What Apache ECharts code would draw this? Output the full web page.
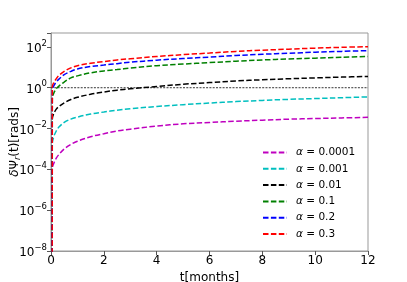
<!DOCTYPE html>
<html><head><meta charset="utf-8">
<script src="https://cdn.jsdelivr.net/npm/echarts@6/dist/echarts.min.js"></script>
<style>html,body{margin:0;padding:0;background:#fff}#c{width:407px;height:282px}</style>
</head><body><div id="c"></div>
<script>
// time in months
const tMonths = [0.045, 0.05, 0.1, 0.2, 0.3, 0.5, 0.75, 1, 1.5, 2, 2.5, 3, 4, 5, 6, 7, 8, 9, 10, 11, 12];
// δΨ_r(t) [rads] for each alpha
const alpha0001 = [1e-12, 1.122e-4, 1.905e-4, 3.548e-4, 5.370e-4, 1.0e-3, 1.660e-3, 2.399e-3, 3.981e-3, 5.623e-3, 7.586e-3, 9.333e-3, 1.318e-2, 1.698e-2, 1.995e-2, 2.291e-2, 2.570e-2, 2.884e-2, 3.090e-2, 3.311e-2, 3.548e-2];
const alpha001 = [1e-12, 1.778e-3, 3.802e-3, 7.586e-3, 1.175e-2, 1.995e-2, 2.884e-2, 3.631e-2, 5.129e-2, 6.457e-2, 7.943e-2, 9.333e-2, 0.1202, 0.1479, 0.1778, 0.2089, 0.2399, 0.2692, 0.2951, 0.3236, 0.3548];
const alpha01 = [1e-12, 3.020e-2, 5.248e-2, 8.913e-2, 0.1202, 0.1820, 0.2630, 0.3388, 0.4786, 0.6166, 0.7586, 0.8913, 1.148, 1.479, 1.778, 2.138, 2.455, 2.754, 3.020, 3.311, 3.548];
const alpha1 = [1e-12, 0.3162, 0.5248, 0.8913, 1.202, 1.905, 3.020, 3.802, 5.370, 6.607, 7.762, 9.120, 12.02, 14.45, 16.98, 19.95, 22.91, 25.70, 28.18, 30.90, 33.88];
const alpha2 = [1e-12, 0.7943, 1.202, 1.905, 2.630, 4.365, 6.310, 8.318, 10.96, 12.88, 15.14, 17.78, 22.39, 26.92, 31.62, 38.02, 43.65, 48.98, 54.95, 60.26, 66.07];
const alpha3 = [1e-12, 1.122, 1.738, 2.754, 3.981, 6.310, 9.333, 12.02, 15.85, 19.05, 22.91, 26.30, 33.88, 41.69, 50.12, 60.26, 69.18, 77.62, 87.10, 95.50, 102.3];
const seriesNames = ['α=0.0001', 'α=0.001', 'α=0.01', 'α=0.1', 'α=0.2', 'α=0.3'];
const seriesValues = [alpha0001, alpha001, alpha01, alpha1, alpha2, alpha3];
const seriesColors = ['#bf00bf', '#00bfbf', '#000000', '#008000', '#0000ff', '#ff0000'];
const refLineX = [0, 12];
const refLineY = [1, 1];
const xTicks = [0, 2, 4, 6, 8, 10, 12];
const yTickExponents = [-8, -6, -4, -2, 0, 2];

const FONT = 'DejaVu Sans';
const chart = echarts.init(document.getElementById('c'), null, {renderer: 'canvas'});

const series = seriesNames.map((name, i) => ({
  name: name,
  type: 'line',
  data: tMonths.map((t, j) => [t, seriesValues[i][j]]),
  symbol: 'none',
  showSymbol: false,
  smooth: 0.35,
  clip: true,
  color: seriesColors[i],
  lineStyle: {color: seriesColors[i], width: 1.5, type: [5.5, 2.4]},
  z: 3 + i
}));
series.unshift({
  name: 'ref',
  type: 'line',
  data: refLineX.map((x, j) => [x, refLineY[j]]),
  symbol: 'none',
  silent: true,
  lineStyle: {color: '#000', width: 0.8, type: [2, 1.3]},
  z: 2
});

const option = {
  animation: false,
  backgroundColor: '#fff',
  textStyle: {fontFamily: FONT},
  grid: {left: 51, right: 39, top: 33, bottom: 31, show: true, borderColor: '#999', borderWidth: 1,
    containLabel: false, outerBoundsMode: 'none'},
  legend: {
    data: seriesNames,
    orient: 'vertical',
    left: 262, top: 147,
    padding: 0,
    itemWidth: 24, itemHeight: 10, itemGap: 5.3,
    itemStyle: {opacity: 0},
    formatter: n => '{i|α}{n| = ' + n.split('=')[1] + '}',
    textStyle: {
      fontFamily: FONT, color: '#000', fontSize: 10.5, lineHeight: 10, height: 10,
      rich: {i: {fontStyle: 'italic', fontSize: 10.5, lineHeight: 10, fontFamily: FONT, padding: [0, 0, 0, 4]},
             n: {fontSize: 10.5, lineHeight: 10, fontFamily: FONT}}
    }
  },
  xAxis: {
    type: 'value', min: 0, max: 12, interval: 2,
    name: 't[months]', nameLocation: 'middle', nameGap: 12,
    nameTextStyle: {fontFamily: FONT, fontSize: 12, color: '#000'},
    axisLine: {show: true, lineStyle: {color: '#999', width: 1}},
    axisTick: {show: true, length: 4, lineStyle: {color: '#555'}},
    axisLabel: {fontFamily: FONT, fontSize: 12, color: '#000', margin: 4,
      formatter: v => xTicks.includes(v) ? String(v) : ''},
    splitLine: {show: false}
  },
  yAxis: {
    type: 'log', logBase: 10, min: 1e-8, max: 480, interval: 2,
    name: '{i|δ}Ψ{s|r}(t)[rads]', nameLocation: 'middle', nameGap: 29, nameRotate: 90,
    nameMoveOverlap: false,
    nameTextStyle: {fontFamily: FONT, fontSize: 12, color: '#000', lineHeight: 14,
      rich: {i: {fontStyle: 'italic', fontSize: 12, lineHeight: 14, fontFamily: FONT},
             s: {fontStyle: 'italic', fontSize: 8, lineHeight: 14, fontFamily: FONT, verticalAlign: 'bottom'}}},
    axisLine: {show: true, lineStyle: {color: '#999', width: 1}},
    axisTick: {show: true, length: 4, lineStyle: {color: '#555'}},
    minorTick: {show: false},
    splitLine: {show: false},
    axisLabel: {
      fontFamily: FONT, fontSize: 12, color: '#000', margin: 4,
      formatter: v => {
        const e = Math.round(Math.log10(v));
        if (!yTickExponents.includes(e) || Math.abs(Math.log10(v) - e) > 1e-6) return '';
        return '{b|10}{p|' + (e < 0 ? '\u2212' + (-e) : String(e)) + '}';
      },
      rich: {
        b: {fontSize: 12, fontFamily: FONT, color: '#000', verticalAlign: 'bottom', lineHeight: 16},
        p: {fontSize: 8.5, fontFamily: FONT, color: '#000', verticalAlign: 'top', lineHeight: 16}
      }
    }
  },
  series: series
};
chart.setOption(option);
</script></body></html>
